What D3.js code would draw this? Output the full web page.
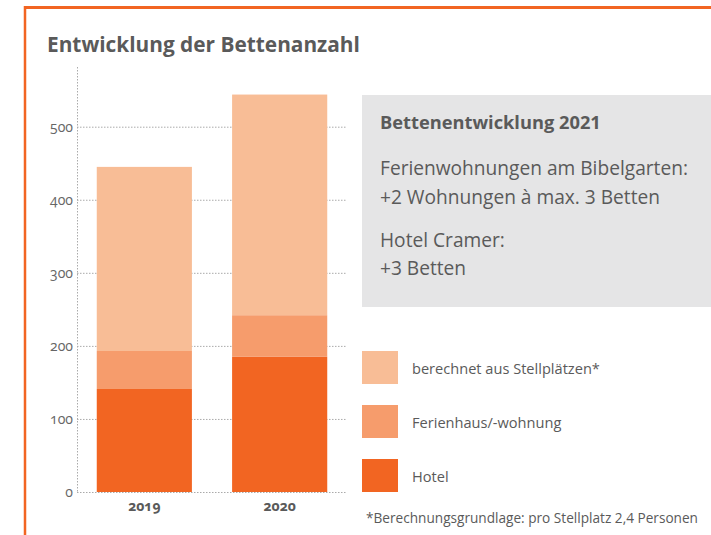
<!DOCTYPE html>
<html>
<head>
<meta charset="utf-8">
<script src="https://cdn.jsdelivr.net/npm/d3@7"></script>
<style>
  body { margin: 0; background: #fff; }
  svg { display: block; font-family: "Open Sans", sans-serif; }
</style>
</head>
<body>
<div id="chart"></div>
<script>
// data
const years = ["2019", "2020"];
const seriesKeys = ["hotel", "ferien", "stellplatz"];
const seriesLabels = ["Hotel", "Ferienhaus/-wohnung", "berechnet aus Stellplätzen*"];
const hotelValues = [141, 185];
const ferienValues = [52, 57];
const stellplatzValues = [252, 302];
const yTicks = [0, 100, 200, 300, 400, 500];
const boxLines = [
  "Ferienwohnungen am Bibelgarten:",
  "+2 Wohnungen à max. 3 Betten",
  "Hotel Cramer:",
  "+3 Betten"
];

const colors = { hotel: "#F26522", ferien: "#F69C6C", stellplatz: "#F8BD96" };
const grey = "#5a5a5a";

const width = 711, height = 535;
const svg = d3.select("#chart").append("svg")
  .attr("width", width).attr("height", height);

// fit text to a measured width by scaling the font size
function fit(sel, target) {
  const w = sel.node().getComputedTextLength();
  const fs = parseFloat(sel.attr("font-size"));
  sel.attr("font-size", (fs * target / w).toFixed(2));
  return sel;
}

// orange frame
svg.append("line").attr("x1", 24).attr("x2", width).attr("y1", 7.5).attr("y2", 7.5)
  .attr("stroke", "#F26522").attr("stroke-width", 3);
svg.append("line").attr("x1", 25).attr("x2", 25).attr("y1", 6).attr("y2", height)
  .attr("stroke", "#F26522").attr("stroke-width", 2.5);

// title
fit(svg.append("text").attr("x", 47).attr("y", 52)
  .attr("font-size", 23).attr("font-weight", 700).attr("fill", grey)
  .text("Entwicklung der Bettenanzahl"), 313);

const table = years.map((yr, i) => ({
  year: yr, hotel: hotelValues[i], ferien: ferienValues[i], stellplatz: stellplatzValues[i]
}));
const stacked = d3.stack().keys(seriesKeys)(table);

const x = d3.scaleBand().domain(years).range([77, 347]).paddingInner(0.297).paddingOuter(0.146);
const y = d3.scaleLinear().domain([0, 500]).range([492, 126.7]);

// grid
const grid = svg.append("g");
grid.selectAll("line").data(yTicks).join("line")
  .attr("x1", 77).attr("x2", 347)
  .attr("y1", d => y(d) + 0.5).attr("y2", d => y(d) + 0.5)
  .attr("stroke", "#aaa").attr("stroke-width", 1).attr("stroke-dasharray", "1.5,1.5");
svg.append("line").attr("x1", 77.5).attr("x2", 77.5).attr("y1", 67).attr("y2", 492)
  .attr("stroke", "#aaa").attr("stroke-width", 1).attr("stroke-dasharray", "1.5,1.5");

// bars
svg.append("g").selectAll("g").data(stacked).join("g")
  .attr("fill", d => colors[d.key])
  .selectAll("rect").data(d => d).join("rect")
  .attr("x", d => x(d.data.year))
  .attr("width", x.bandwidth())
  .attr("y", d => y(d[1]))
  .attr("height", d => y(d[0]) - y(d[1]));

// y axis
const yAxis = svg.append("g").attr("transform", "translate(73,0)")
  .call(d3.axisLeft(y).tickValues(yTicks).tickSize(0).tickPadding(0));
yAxis.select(".domain").remove();
yAxis.selectAll("text").attr("font-size", 14).attr("fill", "#666")
  .attr("font-family", "Open Sans, sans-serif")
  .style("font-variant-numeric", "oldstyle-nums");

// x axis
const xAxis = svg.append("g").attr("transform", "translate(0,492)")
  .call(d3.axisBottom(x).tickSize(0).tickPadding(9));
xAxis.select(".domain").remove();
xAxis.selectAll("text").attr("font-size", 14).attr("font-weight", 700).attr("fill", grey)
  .attr("font-family", "Open Sans, sans-serif")
  .style("font-variant-numeric", "oldstyle-nums");

// info box
svg.append("rect").attr("x", 362).attr("y", 95).attr("width", width - 362).attr("height", 212)
  .attr("fill", "#e5e5e6");
fit(svg.append("text").attr("x", 380).attr("y", 129)
  .attr("font-size", 16).attr("font-weight", 700).attr("fill", grey)
  .text("Bettenentwicklung 2021"), 221);
const lineY = [175, 204, 247, 275];
const bl = svg.append("g").selectAll("text").data(boxLines).join("text")
  .attr("x", 380).attr("y", (d, i) => lineY[i])
  .attr("font-size", 18).attr("fill", grey)
  .text(d => d);
fit(bl.filter((d, i) => i === 0), 308);
bl.attr("font-size", bl.filter((d, i) => i === 0).attr("font-size"));

// legend
const legendY = [351, 405, 459];
const legendOrder = [2, 1, 0];
const lg = svg.append("g").selectAll("g").data(legendOrder).join("g")
  .attr("transform", (d, i) => `translate(362,${legendY[i]})`);
lg.append("rect").attr("width", 36).attr("height", 33).attr("fill", d => colors[seriesKeys[d]]);
const lt = lg.append("text").attr("x", 50).attr("y", 23)
  .attr("font-size", 15).attr("fill", grey)
  .text(d => seriesLabels[d]);
fit(lt.filter((d, i) => i === 0), 188);
lt.attr("font-size", lt.filter((d, i) => i === 0).attr("font-size"));

// footnote
fit(svg.append("text").attr("x", 366).attr("y", 523)
  .attr("font-size", 13).attr("fill", grey)
  .text("*Berechnungsgrundlage: pro Stellplatz 2,4 Personen"), 332);
</script>
</body>
</html>
